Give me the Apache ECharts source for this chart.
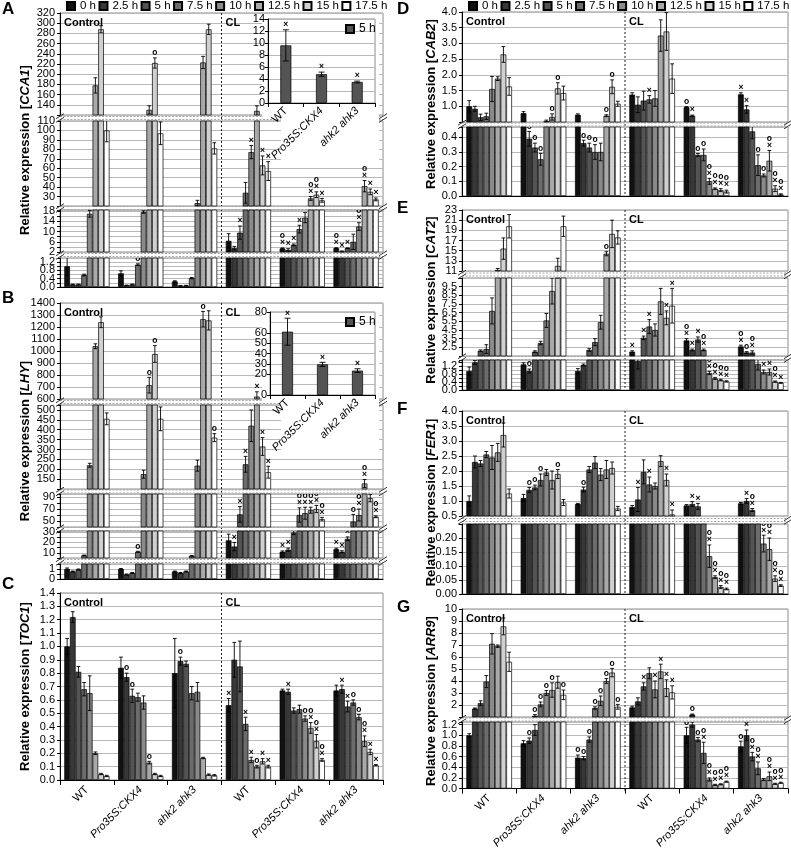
<!DOCTYPE html>
<html><head><meta charset="utf-8">
<script src="https://cdn.jsdelivr.net/npm/echarts@6/dist/echarts.min.js"></script>
<style>html,body{margin:0;padding:0;background:#fff}#c{width:791px;height:851px}</style>
</head><body><div id="c"></div><script>
// ---------------- DATA ----------------
const TIMES = ['0 h','2.5 h','5 h','7.5 h','10 h','12.5 h','15 h','17.5 h'];
const GENOTYPES = ['WT','Pro35S:CKX4','ahk2 ahk3','WT','Pro35S:CKX4','ahk2 ahk3'];
const INSET_GENOTYPES = ['WT','Pro35S:CKX4','ahk2 ahk3'];
// rows: Control WT, Control CKX4, Control ahk2ahk3, CL WT, CL CKX4, CL ahk2ahk3 ; columns: TIMES
const CCA1_MEAN = [
 [1.0,0.12,0.12,0.58,17,178,288,100],
 [0.66,0.08,0.12,1.08,17.7,130,222,97],
 [0.27,0.06,0.07,0.43,23,223,288,81],
 [6.4,3.5,9.6,34,77,128,63,57],
 [3.4,2.8,4.8,11,15.5,28,32,26],
 [3.5,2.2,3.5,6,12,41,35,27]];
const CCA1_ERR = [
 [0.45,0.02,0.02,0.04,1.3,15,7,12],
 [0.12,0.01,0.02,0.04,0.5,8,10,12],
 [0.03,0.01,0.01,0.03,3,12,10,6],
 [2.8,0.7,2.6,11,7,10,10,10],
 [0.2,0.5,0.35,1.5,2,2,3,2],
 [0.2,0.2,0.15,3,1.5,6,3,1.5]];
const CCA1_SIG = [
 ['','','','','','','',''],
 ['','','','o','','','o',''],
 ['','','','','','','',''],
 ['','','×','','×','','×','×'],
 ['o×','×','×','×','o','o×','o×','×'],
 ['o×','×','×','','o×','o×','×','×']];
const CCA1_INSET_MEAN = [9.6,4.8,3.5];
const CCA1_INSET_ERR = [2.6,0.35,0.15];
const CCA1_INSET_SIG = ['×','×','×'];

const LHY_MEAN = [
 [1.0,0.75,0.95,7.5,220,1040,1240,455],
 [1.0,0.45,0.6,11,175,715,975,455],
 [0.75,0.6,0.75,7,218,1265,1255,360],
 [22,16,61,225,420,620,315,185],
 [11,13,29.5,60,63,68,70,53],
 [13.5,11,23.5,49,60,128,88,57]];
const LHY_ERR = [
 [0.1,0.05,0.05,0.3,10,20,45,30],
 [0.05,0.05,0.05,0.5,20,65,70,60],
 [0.05,0.05,0.05,0.3,28,65,80,20],
 [6,4,13,40,80,40,45,30],
 [0.8,1.5,2,12,10,5,6,3],
 [1,1,1.8,12,10,20,6,1.5]];
const LHY_SIG = [
 ['','','','','','','',''],
 ['','','','o','','o','o',''],
 ['','','','','','o','','o'],
 ['×','×','×','×','','×','×','×'],
 ['×','×','×','o×','o×','o×','o×','o×'],
 ['×','×','×','o','o×','o×','o×','o×']];
const LHY_INSET_MEAN = [61,29.5,23.5];
const LHY_INSET_ERR = [13,2,1.8];
const LHY_INSET_SIG = ['×','×','×'];

const TOC1_MEAN = [
 [1.0,1.22,0.81,0.68,0.65,0.2,0.045,0.03],
 [0.84,0.77,0.63,0.62,0.58,0.13,0.045,0.03],
 [0.8,0.89,0.87,0.65,0.66,0.165,0.04,0.035],
 [0.56,0.9,0.85,0.42,0.15,0.1,0.14,0.1],
 [0.67,0.66,0.52,0.53,0.46,0.39,0.29,0.15],
 [0.67,0.68,0.55,0.58,0.47,0.29,0.21,0.11]];
const TOC1_ERR = [
 [0.06,0.04,0.04,0.05,0.13,0.01,0.005,0.005],
 [0.08,0.03,0.05,0.03,0.05,0.01,0.005,0.005],
 [0.26,0.03,0.02,0.05,0.07,0.005,0.005,0.005],
 [0.05,0.13,0.19,0.05,0.02,0.01,0.02,0.01],
 [0.01,0.02,0.02,0.03,0.02,0.04,0.05,0.01],
 [0.04,0.03,0.04,0.02,0.02,0.04,0.02,0.005]];
const TOC1_SIG = [
 ['','','','','','','',''],
 ['','o','o','','','o','',''],
 ['','o','','','','','',''],
 ['×','','','×','×','o','×','×'],
 ['','×','','','o','o×','o×','o×'],
 ['','×','×','o','o','o×','×','×']];

const CAB2_MEAN = [
 [1.0,0.92,0.65,0.68,1.55,1.88,2.65,1.63],
 [0.78,0.39,0.33,0.25,0.53,0.66,1.57,1.42],
 [0.73,0.36,0.33,0.30,0.30,0.70,1.62,1.08],
 [1.37,1.05,1.18,1.22,1.25,3.25,3.38,1.88],
 [0.97,0.70,0.28,0.28,0.10,0.05,0.04,0.03],
 [1.38,0.90,0.44,0.21,0.14,0.24,0.05,0.01]];
const CAB2_ERR = [
 [0.18,0.08,0.1,0.1,0.4,0.06,0.25,0.28],
 [0.05,0.05,0.03,0.04,0.03,0.1,0.18,0.22],
 [0.03,0.02,0.03,0.05,0.06,0.03,0.22,0.08],
 [0.06,0.25,0.3,0.12,0.25,0.5,0.6,0.47],
 [0.02,0.02,0.01,0.04,0.02,0.005,0.01,0.01],
 [0.05,0.12,0.05,0.07,0.01,0.07,0.02,0.005]];
const CAB2_SIG = [
 ['','','','','','','',''],
 ['','o','o','o','','o','o',''],
 ['','o','o','o','','o','o',''],
 ['','','','×','','','',''],
 ['o','×','o','o','o×','o×','o×','o×'],
 ['×','×','','o','o','o×','o×','o×']];

const CAT2_MEAN = [
 [0.95,1.38,2.1,2.3,6.7,11.2,15.4,19.8],
 [1.28,0.95,2.0,3.0,5.6,9.0,12.0,19.8],
 [0.95,1.25,2.2,3.1,5.4,14.4,18.3,17.6],
 [2.0,1.45,3.6,4.9,4.5,7.8,5.9,7.3],
 [3.3,2.2,3.4,2.2,0.85,0.58,0.5,0.43],
 [2.6,1.9,1.9,1.3,0.9,0.9,0.42,0.36]];
const CAT2_ERR = [
 [0.2,0.1,0.1,0.5,1.5,0.3,2.1,2.3],
 [0.08,0.1,0.1,0.2,0.8,1.5,1.5,2.0],
 [0.12,0.05,0.15,0.4,0.8,0.4,2.7,1.3],
 [0.1,0.4,0.2,0.8,0.7,1.5,0.8,2.0],
 [0.2,0.1,0.3,0.1,0.08,0.05,0.04,0.03],
 [0.15,0.1,0.2,0.3,0.1,0.15,0.03,0.02]];
const CAT2_SIG = [
 ['','','','','','','',''],
 ['','o','','','','','',''],
 ['','','','','','o','',''],
 ['×','','×','×','','','×','×'],
 ['o×','×','×','o×','o×','o×','o×','o×'],
 ['o×','o','o×','','o×','o×','o×','×']];

const FER1_MEAN = [
 [1.0,2.3,2.25,2.55,2.45,2.62,3.2,1.25],
 [1.1,1.37,1.45,1.7,1.95,1.7,1.9,0.95],
 [0.9,1.38,2.05,2.28,1.88,2.05,2.1,0.75],
 [0.8,1.05,1.97,1.55,1.5,2.33,1.7,0.55],
 [0.85,0.9,0.82,0.45,0.135,0.06,0.025,0.018],
 [0.92,1.0,0.7,0.4,0.18,0.16,0.055,0.03]];
const FER1_ERR = [
 [0.17,0.2,0.1,0.1,0.4,0.3,0.4,0.15],
 [0.12,0.08,0.08,0.2,0.1,0.3,0.15,0.1],
 [0.02,0.08,0.1,0.2,0.2,0.3,0.2,0.07],
 [0.05,0.4,0.4,0.25,0.1,0.18,0.2,0.15],
 [0.03,0.08,0.1,0.05,0.04,0.005,0.005,0.003],
 [0.03,0.08,0.05,0.05,0.03,0.04,0.01,0.003]];
const FER1_SIG = [
 ['','','','','','','',''],
 ['','o','o','o','','','o',''],
 ['','o','','','','','',''],
 ['','×','','×','','','×','×'],
 ['','×','×','o×','o×','o×','o×','o×'],
 ['','×','o×','o×','o×','o×','o×','o×']];

const ARR9_MEAN = [
 [1.0,1.7,2.15,3.95,7.1,6.9,8.55,5.6],
 [0.85,0.9,1.1,2.05,3.0,3.25,3.9,2.85],
 [0.58,0.57,0.92,1.75,2.35,4.0,4.7,1.85],
 [1.8,2.3,3.55,4.65,3.3,4.8,3.4,3.05],
 [1.0,1.2,0.92,0.67,0.17,0.07,0.08,0.13],
 [0.79,1.0,0.6,0.38,0.17,0.23,0.09,0.11]];
const ARR9_ERR = [
 [0.03,0.05,0.2,0.5,0.85,0.1,0.7,0.8],
 [0.05,0.05,0.1,0.2,0.2,0.6,0.5,0.4],
 [0.05,0.03,0.05,0.1,0.4,0.2,0.35,0.2],
 [0.1,0.3,0.3,0.45,0.7,0.6,0.7,0.55],
 [0.15,0.05,0.04,0.2,0.03,0.01,0.01,0.01],
 [0.1,0.1,0.08,0.12,0.02,0.08,0.01,0.01]];
const ARR9_SIG = [
 ['','','','','','','',''],
 ['','o','o','o','o','o','','o'],
 ['o','o','o','o','o','o','o','o'],
 ['','','×','','×','×','×','×'],
 ['o','o','o','o×','o×','o×','o×','o×'],
 ['o','o×','o×','o×','','o×','o×','o×']];

// ---------------- STYLE / LAYOUT ----------------
const FONT = "'Liberation Sans', Arial, Helvetica, sans-serif";
const COLORS = ['#111111','#383838','#545454','#6c6c6c','#8a8a8a','#a9a9a9','#d0d0d0','#ffffff'];
const GAP = 0.16;
const LCOL = {left:60, width:323, titleX:25, letterX:2};
const RCOL = {left:462, width:326, titleX:431, letterX:397};

const PANELS = [
 {letter:'A', letterY:1, gene:'CCA1', col:LCOL, mean:CCA1_MEAN, err:CCA1_ERR, sig:CCA1_SIG, xLabels:false, segs:[
   {top:13,bottom:115,min:120,max:320,interval:20,labelMin:140,labelStep:20,dec:0},
   {top:121,bottom:206,min:20,max:110,interval:10,labelMin:30,labelStep:10,dec:0},
   {top:210,bottom:252,min:2,max:18.5,interval:2,labelMin:2,labelMax:18,labelStep:4,dec:0},
   {top:258,bottom:287,min:0,max:1.4,interval:0.2,labelMin:0,labelMax:1.2,labelStep:0.4,dec:1}]},
 {letter:'B', letterY:290, gene:'LHY', col:LCOL, mean:LHY_MEAN, err:LHY_ERR, sig:LHY_SIG, xLabels:false, segs:[
   {top:303,bottom:399,min:600,max:1400,interval:100,labelMin:600,labelStep:100,dec:0},
   {top:405,bottom:489,min:100,max:525,interval:50,labelMin:150,labelMax:500,labelStep:50,dec:0},
   {top:494,bottom:527,min:40,max:95,interval:10,labelMin:50,labelMax:90,labelStep:20,dec:0},
   {top:531,bottom:558,min:5,max:31,interval:5,labelMin:10,labelMax:30,labelStep:10,dec:0},
   {top:564,bottom:579,min:0,max:1.5,interval:0.5,labelMin:0,labelMax:1,labelStep:1,dec:0}]},
 {letter:'C', letterY:576, gene:'TOC1', col:LCOL, mean:TOC1_MEAN, err:TOC1_ERR, sig:TOC1_SIG, xLabels:true, segs:[
   {top:593,bottom:780,min:0,max:1.4,interval:0.1,labelMin:0,labelStep:0.1,dec:1}]},
 {letter:'D', letterY:1, gene:'CAB2', col:RCOL, mean:CAB2_MEAN, err:CAB2_ERR, sig:CAB2_SIG, xLabels:false, segs:[
   {top:12,bottom:122,min:0.5,max:4,interval:0.5,labelMin:1,labelStep:0.5,dec:1},
   {top:127,bottom:196,min:0,max:0.47,interval:0.1,labelMin:0,labelMax:0.4,labelStep:0.1,dec:1}]},
 {letter:'E', letterY:200, gene:'CAT2', col:RCOL, mean:CAT2_MEAN, err:CAT2_ERR, sig:CAT2_SIG, xLabels:false, segs:[
   {top:210,bottom:271,min:11,max:23,interval:2,labelMin:11,labelStep:2,dec:0},
   {top:278,bottom:356,min:1.5,max:10.5,interval:1,labelMin:2.5,labelMax:9.5,labelStep:1,dec:1},
   {top:360,bottom:390,min:0,max:1.5,interval:0.2,labelMin:0,labelMax:1.2,labelStep:0.4,dec:1}]},
 {letter:'F', letterY:401, gene:'FER1', col:RCOL, mean:FER1_MEAN, err:FER1_ERR, sig:FER1_SIG, xLabels:false, segs:[
   {top:411,bottom:516,min:0.5,max:4,interval:0.5,labelMin:0.5,labelStep:0.5,dec:1},
   {top:524,bottom:594,min:0,max:0.25,interval:0.05,labelMin:0,labelMax:0.2,labelStep:0.05,dec:2}]},
 {letter:'G', letterY:599, gene:'ARR9', col:RCOL, mean:ARR9_MEAN, err:ARR9_ERR, sig:ARR9_SIG, xLabels:true, segs:[
   {top:609,bottom:717,min:1,max:10,interval:1,labelMin:2,labelStep:1,dec:0},
   {top:722,bottom:793,min:0,max:1.25,interval:0.2,labelMin:0,labelMax:1.2,labelStep:0.2,dec:1}]}
];

const INSETS = [
 {left:268,width:107,top:19,height:84,max:14,interval:2,mean:CCA1_INSET_MEAN,err:CCA1_INSET_ERR,sig:CCA1_INSET_SIG,
  legendLeft:343,legendTop:21,rects:[{x:262,y:14,width:117,height:103},{x:281,y:117,width:98,height:44}]},
 {left:270,width:105,top:312,height:83,max:80,interval:10,mean:LHY_INSET_MEAN,err:LHY_INSET_ERR,sig:LHY_INSET_SIG,
  legendLeft:343,legendTop:314,rects:[{x:262,y:306,width:117,height:97},{x:281,y:403,width:98,height:48}]}
];

// ---------------- BUILD ----------------
const option = {animation:false, backgroundColor:'#fff', textStyle:{fontFamily:FONT},
  grid:[], xAxis:[], yAxis:[], series:[], legend:[], graphic:{elements:[]}};
const GR = option.graphic.elements;

function labelValues(s){
  const hi = (s.labelMax !== undefined ? s.labelMax : s.max), out = [];
  for (let k = 0; s.labelMin + k * s.labelStep <= hi + 1e-9; k++) out.push(+(s.labelMin + k * s.labelStep).toFixed(6));
  return out;
}
function xLabelFmt(v){ return v === 'WT' ? '{n|WT}' : '{i|' + v + '}'; }
const XRICH = {n:{fontSize:11,color:'#000',fontFamily:FONT}, i:{fontSize:11,fontStyle:'italic',color:'#000',fontFamily:FONT}};

function markText(cx, y, m){
  return {type:'text', x:cx, y:y, style:{text:m.split('').join('\n'), fill:'#000', fontSize:8.5, fontWeight:'bold',
    fontFamily:FONT, align:'center', verticalAlign:'bottom', lineHeight:7}};
}
// error bar (clamped to the segment range) + significance mark
function errGroup(api, cx, g, v, e, cap, m, lo, hi){
  const out = [];
  if (v <= lo && lo > 0) return {type:'group', children:out};
  const top = v + e, bot = Math.max(v - e, 0);
  const ls = {stroke:'#000', lineWidth:0.9};
  if (e > 0 && top >= lo && bot <= hi){
    const yT = api.coord([g, Math.min(top, hi)])[1];
    const yB = api.coord([g, Math.max(bot, lo)])[1];
    out.push({type:'line', shape:{x1:cx,y1:yT,x2:cx,y2:yB}, style:ls});
    if (top <= hi) out.push({type:'line', shape:{x1:cx-cap,y1:yT,x2:cx+cap,y2:yT}, style:ls});
    if (bot >= lo) out.push({type:'line', shape:{x1:cx-cap,y1:yB,x2:cx+cap,y2:yB}, style:ls});
  }
  if (m && top >= lo && top <= hi){
    out.push(markText(cx, api.coord([g, top])[1] - 1.5, m));
  }
  return {type:'group', children:out};
}
function makeErr(sig, s){
  return function(params, api){
    const g = api.value(0), v = api.value(1), t = api.value(2), e = api.value(3);
    const band = api.size([1, 0])[0];
    const total = band * (1 - GAP), bw = total / TIMES.length;
    const cx = api.coord([g, 0])[0] - total / 2 + (t + 0.5) * bw;
    return errGroup(api, cx, g, v, e, Math.max(1.5, bw * 0.33), sig[g][t], s.min, s.max);
  };
}
function makeInsetErr(sig, max){
  return function(params, api){
    const g = api.value(0), v = api.value(1), e = api.value(2);
    const cx = api.coord([g, 0])[0];
    return errGroup(api, cx, g, v, e, 3, sig[g], 0, max);
  };
}
// y tick labels drawn at the axis scale positions (avoids automatic overlap hiding)
function makeTickLabel(dec){
  return function(params, api){
    const v = api.value(1);
    return {type:'text', x:params.coordSys.x - 5, y:api.coord([0, v])[1],
      style:{text:v.toFixed(dec), fill:'#000', fontSize:11, fontFamily:FONT, align:'right', verticalAlign:'middle'}};
  };
}
function line(x1,y1,x2,y2,style,z){ GR.push({type:'line', silent:true, z:z||1, shape:{x1,y1,x2,y2}, style}); }
function text(x,y,txt,style,extra){ GR.push(Object.assign({type:'text', silent:true, z:10, x, y, style:Object.assign({text:txt, fill:'#000', fontFamily:FONT}, style)}, extra||{})); }

let gi = 0;
PANELS.forEach(p => {
  const segs = p.segs, col = p.col;
  segs.forEach((s, si) => {
    const bottom = si === segs.length - 1;
    option.grid.push({left:col.left, width:col.width, top:s.top, height:s.bottom - s.top, show:true, borderColor:'#8c8c8c', borderWidth:1});
    option.xAxis.push({type:'category', gridIndex:gi, data:GENOTYPES,
      axisLine:{show:bottom, lineStyle:{color:'#000', width:1}},
      axisTick:{show:bottom && p.xLabels, length:5, lineStyle:{color:'#000'}},
      axisLabel:{show:bottom && p.xLabels, rotate:45, margin:8, interval:0, formatter:xLabelFmt, rich:XRICH},
      splitLine:{show:false}});
    option.yAxis.push({type:'value', gridIndex:gi, min:s.min, max:s.max, interval:s.interval,
      axisLine:{show:true, lineStyle:{color:'#000'}},
      axisTick:{show:true, length:3, lineStyle:{color:'#000'}},
      axisLabel:{show:false},
      splitLine:{show:true, lineStyle:{color:'#b9b9b9', width:1}}});
    TIMES.forEach((name, t) => {
      option.series.push({type:'bar', name, xAxisIndex:gi, yAxisIndex:gi,
        data:p.mean.map(row => row[t] > s.min ? row[t] : '-'),
        barGap:'0%', barCategoryGap:(GAP*100)+'%', clip:true, silent:true,
        itemStyle:{color:COLORS[t], borderColor:'#000', borderWidth:0.7}});
    });
    const items = [];
    p.mean.forEach((row, g) => row.forEach((v, t) => items.push([g, v, t, p.err[g][t]])));
    option.series.push({type:'custom', xAxisIndex:gi, yAxisIndex:gi, clip:true, silent:true, z:3,
      data:items, encode:{x:0, y:1}, renderItem:makeErr(p.sig, s)});
    option.series.push({type:'custom', xAxisIndex:gi, yAxisIndex:gi, clip:false, silent:true, z:3,
      data:labelValues(s).map(v => [0, v]), encode:{x:0, y:1}, renderItem:makeTickLabel(s.dec)});
    gi++;
  });
  const top = segs[0].top, bot = segs[segs.length-1].bottom;
  line(col.left + col.width/2, top, col.left + col.width/2, bot, {stroke:'#222', lineWidth:1, lineDash:[2,2]}, 1);
  text(col.left + 4, top + 4, 'Control', {fontSize:11, fontWeight:'bold', align:'left', verticalAlign:'top'});
  text(col.left + col.width/2 + 4, top + 4, 'CL', {fontSize:11, fontWeight:'bold', align:'left', verticalAlign:'top'});
  text(col.letterX, p.letterY, p.letter, {fontSize:17, fontWeight:'bold', align:'left', verticalAlign:'top'});
  GR.push({type:'text', silent:true, z:10, x:col.titleX, y:(top + bot)/2, rotation:Math.PI/2,
    style:{text:'{b|Relative expression [}{i|' + p.gene + '}{b|]}', fill:'#000', align:'center', verticalAlign:'middle',
      rich:{b:{fontSize:13, fontWeight:'bold', fontFamily:FONT}, i:{fontSize:13, fontWeight:'bold', fontStyle:'italic', fontFamily:FONT}}}});
  for (let i = 0; i < segs.length - 1; i++){
    const mid = (segs[i].bottom + segs[i+1].top) / 2;
    const ds = {stroke:'#a8a8a8', lineWidth:1, lineDash:[2,1.5]};
    line(col.left, mid - 1.5, col.left + col.width, mid - 1.5, ds, 1);
    line(col.left, mid + 1.5, col.left + col.width, mid + 1.5, ds, 1);
    [col.left, col.left + col.width].forEach(x => {
      [-1.8, 1.8].forEach(d => line(x - 4, mid + d + 2.5, x + 4, mid + d - 2.5, {stroke:'#333', lineWidth:1}, 8));
    });
  }
});

INSETS.forEach(ins => {
  ins.rects.forEach(r => GR.push({type:'rect', silent:true, z:3, shape:r, style:{fill:'#fff'}}));
  option.grid.push({left:ins.left, width:ins.width, top:ins.top, height:ins.height, show:true, backgroundColor:'#fff', borderColor:'#8c8c8c', borderWidth:1, z:4});
  option.xAxis.push({type:'category', gridIndex:gi, data:INSET_GENOTYPES, z:5,
    axisLine:{show:true, lineStyle:{color:'#000'}}, axisTick:{show:true, length:4, lineStyle:{color:'#000'}},
    axisLabel:{rotate:45, margin:6, interval:0, formatter:xLabelFmt, rich:XRICH}, splitLine:{show:false}});
  option.yAxis.push({type:'value', gridIndex:gi, min:0, max:ins.max, interval:ins.interval, z:5,
    axisLine:{show:true, lineStyle:{color:'#000'}}, axisTick:{show:true, length:3, lineStyle:{color:'#000'}},
    axisLabel:{fontSize:11, color:'#000', margin:3, fontFamily:FONT, showMinLabel:true, showMaxLabel:true},
    splitLine:{show:true, lineStyle:{color:'#b9b9b9'}}});
  option.series.push({type:'bar', name:'5 h', xAxisIndex:gi, yAxisIndex:gi, z:6, barWidth:11, silent:true,
    data:ins.mean, itemStyle:{color:COLORS[2], borderColor:'#000', borderWidth:0.7}});
  option.series.push({type:'custom', xAxisIndex:gi, yAxisIndex:gi, z:7, silent:true,
    data:ins.mean.map((v, g) => [g, v, ins.err[g]]), encode:{x:0, y:1}, renderItem:makeInsetErr(ins.sig, ins.max)});
  option.legend.push({data:['5 h'], left:ins.legendLeft, top:ins.legendTop, z:10, itemWidth:8, itemHeight:8, icon:'rect',
    selectedMode:false, textStyle:{fontSize:12, color:'#000', fontFamily:FONT}, padding:2});
  gi++;
});

[LCOL, RCOL].forEach(col => {
  option.legend.push({data:TIMES, left:col.left + 6, top:0, width:340, itemWidth:8, itemHeight:8, itemGap:2.5, icon:'rect',
    selectedMode:false, padding:[0,0,0,0], textStyle:{fontSize:11.5, color:'#000', fontFamily:FONT}});
});

const chart = echarts.init(document.getElementById('c'), null, {renderer:'canvas'});
chart.setOption(option);
</script></body></html>
